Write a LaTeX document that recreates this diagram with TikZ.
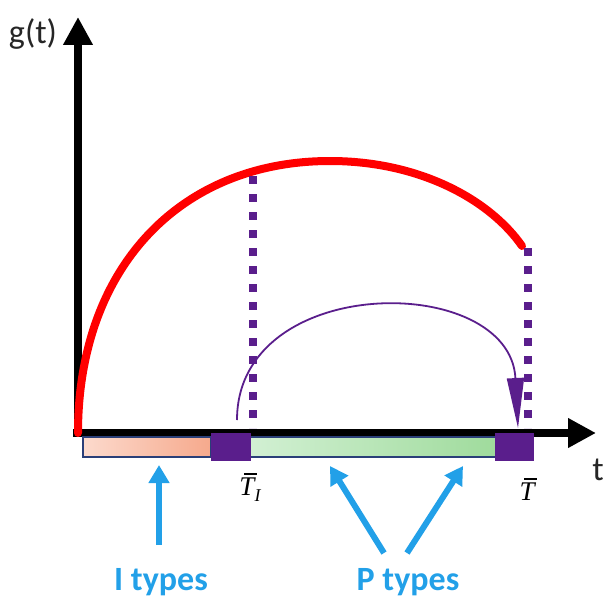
\documentclass[tikz,border=0pt]{standalone}
\usepackage{fontspec}
\setmainfont{Carlito}
\newfontfamily\tfont{Liberation Serif}
\usetikzlibrary{arrows.meta, positioning}

\definecolor{axred}{HTML}{FF0000}
\definecolor{tpurple}{HTML}{5A1E8C}
\definecolor{ptrblue}{HTML}{22A0E8}
\definecolor{barline}{HTML}{2A3F78}
\definecolor{ilight}{HTML}{FCDACD}
\definecolor{idark}{HTML}{F6A98C}
\definecolor{plight}{HTML}{D2F0D3}
\definecolor{pdark}{HTML}{9FDB9C}

% T with a bar, in italic serif
\newcommand{\barT}{\rlap{\kern0.17em\rule[0.76em]{0.46em}{0.06em}}T}

\begin{document}
\begin{tikzpicture}[
  x=1pt, y=-1pt,
  axis/.style={line width=8pt, -{Triangle[length=28pt, width=28pt]}},
  curve/.style={line width=8pt, axred, line cap=round},
  drop/.style={line width=8pt, tpurple, dash pattern=on 8pt off 10pt},
  jump/.style={line width=1.8pt, tpurple, -{Triangle[length=50pt, width=17pt]}},
  typebar/.style={rectangle, draw=barline, line width=1.2pt, minimum height=20pt, inner sep=0pt},
  tsq/.style={rectangle, fill=tpurple, minimum width=40pt, minimum height=28pt, inner sep=0pt},
  tlbl/.style={inner sep=0pt, font=\tfont\itshape\fontsize{27}{30}\selectfont},
  pointer/.style={line width=6pt, ptrblue, -{Triangle[length=18pt, width=20pt]}},
  axislbl/.style={font=\fontsize{34}{40}\selectfont, text=black!85},
  typelbl/.style={font=\fontsize{34}{40}\selectfont\bfseries, text=ptrblue}
]
\useasboundingbox (0,0) rectangle (604,602);

% axes
\coordinate (o) at (78,433);
\coordinate (ytip) at (78,17);
\coordinate (xtip) at (596,433);
\draw[axis] (78,437) -- (ytip);
\draw[axis] (73,433) -- (xtip);
\node[axislbl] (gt) at (33,34) {g(t)};
\node[axislbl] (tl) at (598,470) {t};

% g(t)
\coordinate (peak) at (330,161);
\coordinate (gend) at (522,246);
\draw[curve] (o) .. controls (78,269) and (179,161) .. (peak)
  .. controls (420,161) and (490,200) .. (gend);

% type bars
\node[typebar, minimum width=128pt, left color=ilight, right color=idark] (ibar) at (147,447) {};
\node[typebar, minimum width=248pt, left color=plight, right color=pdark] (pbar) at (373,447) {};
\node[tsq] (tI) at (231,447) {};
\node[tsq, minimum width=39pt] (tT) at (514.5,447) {};
\node[tlbl] (lblI) at (250,487) {\barT\raisebox{-0.22em}{\fontsize{18}{20}\selectfont I}};
\node[tlbl] (lblT) at (527,489) {\barT};

% drops
\coordinate (d1) at (253,176);
\coordinate (d1b) at (253,428);
\coordinate (d2) at (528,248);
\coordinate (d2b) at (528,428);
\draw[drop] (d1) -- (d1b);
\draw[drop] (d2) -- (d2b);

% jump
\coordinate (a0) at (237,420);
\coordinate (a1) at (518,428);
\draw[jump] (a0) .. controls (237,272) and (510,272) .. (a1);

% pointers
\node[typelbl] (itypes) at (161,582) {I types};
\node[typelbl] (ptypes) at (408,582) {P types};
\coordinate (i0) at (159,545);
\coordinate (i1) at (159,465);
\coordinate (p0) at (384,553);
\coordinate (p1) at (330,466);
\coordinate (q0) at (407,553);
\coordinate (q1) at (463,466);
\draw[pointer] (i0) -- (i1);
\draw[pointer] (p0) -- (p1);
\draw[pointer] (q0) -- (q1);
\end{tikzpicture}
\end{document}
